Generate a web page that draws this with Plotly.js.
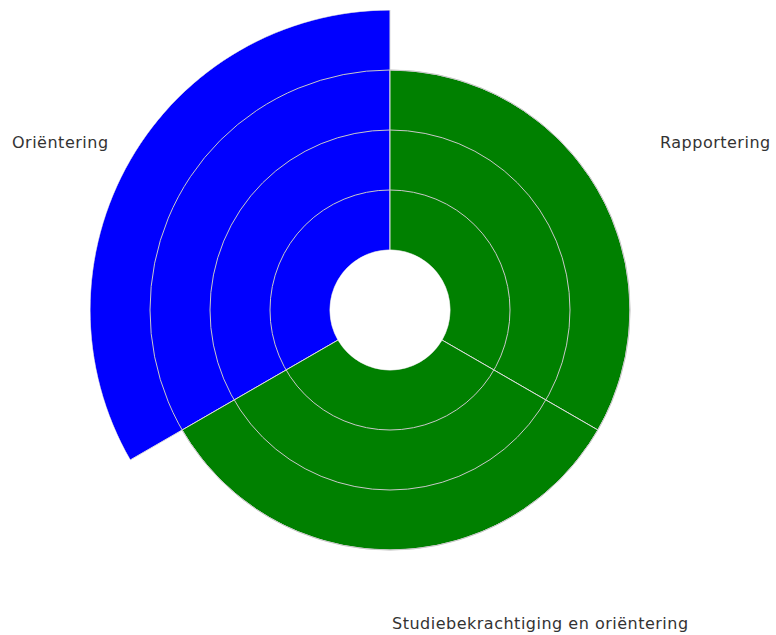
<!DOCTYPE html>
<html>
<head>
<meta charset="utf-8">
<script src="https://cdn.plot.ly/plotly-3.0.1.min.js"></script>
<style>html,body{margin:0;padding:0;background:#fff;}#chart{width:776px;height:635px;}
.annotation-text{letter-spacing:0.5px;}</style>
</head>
<body>
<div id="chart"></div>
<script>
const categories = ["Oriëntering", "Rapportering", "Studiebekrachtiging en oriëntering"];
const values = [4, 3, 3];
const colors = ["#0000ff", "#008000", "#008000"];
const gridVals = [1, 2, 3];

const W = 776, H = 635;
const bars = {
  type: "barpolar",
  subplot: "polar",
  theta: categories,
  r: values,
  marker: {color: colors, line: {color: "#dddddd", width: 1}},
  hoverinfo: "theta+r"
};
// invisible trace so the overlay polar (gridlines on top) is drawn
const overlay = {
  type: "barpolar",
  subplot: "polar2",
  theta: categories,
  r: [0, 0, 0],
  marker: {color: "rgba(0,0,0,0)"},
  hoverinfo: "skip"
};

const labelPos = [
  {x: 111, y: 143, anchor: "right"},
  {x: 773, y: 143, anchor: "right"},
  {x: 390, y: 623, anchor: "left"}
];
const annotations = categories.map((c, i) => ({
  text: c, xref: "paper", yref: "paper",
  x: labelPos[i].x / W, y: 1 - labelPos[i].y / H,
  xanchor: labelPos[i].anchor, yanchor: "middle",
  showarrow: false,
  font: {family: "DejaVu Sans", size: 16, color: "#333333"}
}));

const domain = {x: [90 / W, 690 / W], y: [25 / H, 625 / H]};
const baseRadial = {
  range: [0, 4], tickvals: gridVals, showticklabels: false, ticks: "",
  showline: false
};
const baseAngular = {
  type: "category", categoryarray: categories, rotation: 150, direction: "clockwise",
  showticklabels: false, ticks: "", showline: false, showgrid: false
};

const layout = {
  width: W, height: H,
  margin: {l: 0, r: 0, t: 0, b: 0},
  paper_bgcolor: "#ffffff",
  showlegend: false,
  polar: {
    domain: domain, bgcolor: "rgba(0,0,0,0)", hole: 0.2, bargap: 0,
    radialaxis: Object.assign({}, baseRadial, {showgrid: false}),
    angularaxis: Object.assign({}, baseAngular)
  },
  polar2: {
    domain: domain, bgcolor: "rgba(0,0,0,0)", hole: 0.2, bargap: 0,
    radialaxis: Object.assign({}, baseRadial, {showgrid: true, gridcolor: "#c8c8c8", gridwidth: 1}),
    angularaxis: Object.assign({}, baseAngular)
  },
  annotations: annotations
};

Plotly.newPlot("chart", [bars, overlay], layout, {displayModeBar: false, staticPlot: true});
</script>
</body>
</html>
